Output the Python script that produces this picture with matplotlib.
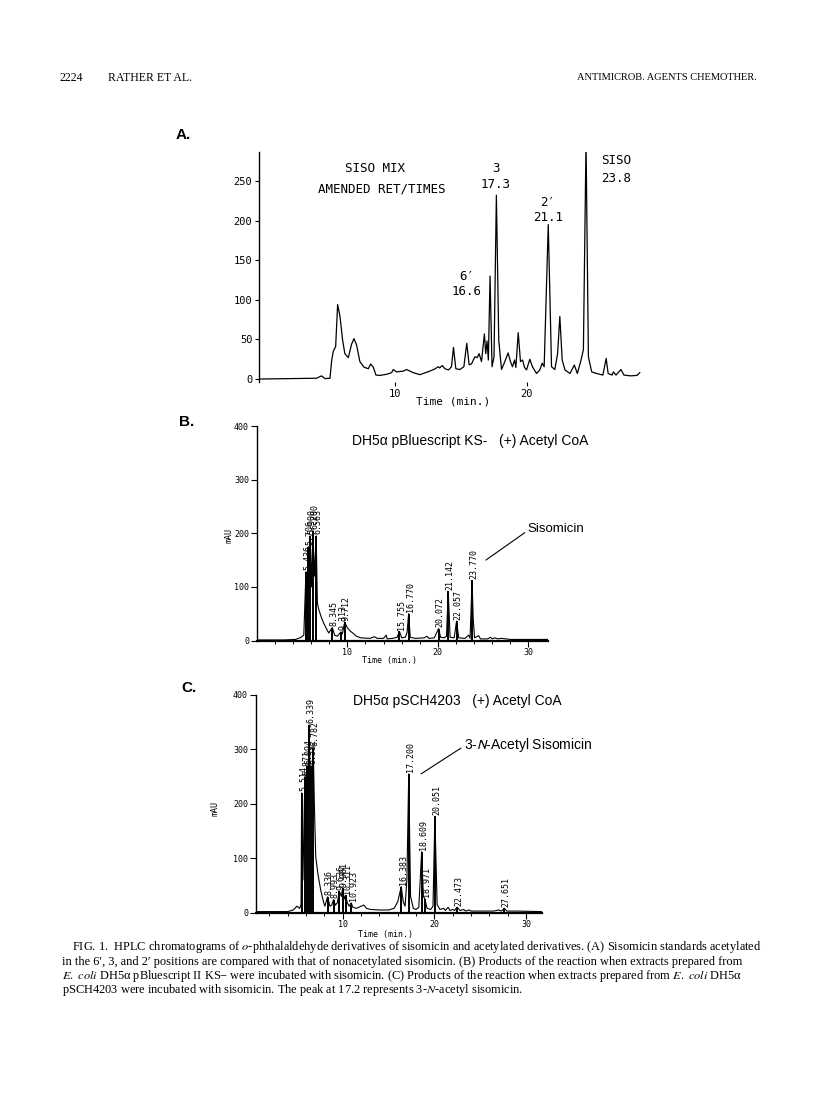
import numpy as np
import matplotlib.pyplot as plt

# ---- panel A : SISO MIX standards (time in min, signal) ----
a_time = [-0.3, 4.05, 4.43, 4.69, 5.07, 5.2, 5.32, 5.5, 5.65, 5.83, 6.03, 6.2, 6.46, 6.71, 6.89,
          7.09, 7.34, 7.65, 7.98, 8.16, 8.36, 8.56, 8.87, 9.37, 9.75, 9.88, 10.13, 10.64, 10.89,
          11.4, 11.9, 12.4, 12.8, 13.06, 13.3, 13.4, 13.6, 13.8, 14.07, 14.3, 14.45, 14.63, 14.93,
          15.24, 15.46, 15.64, 15.82, 16.07, 16.25, 16.4, 16.58, 16.8, 16.9, 17.0, 17.1, 17.23,
          17.38, 17.53, 17.71, 17.89, 18.1, 18.35, 18.6, 18.78, 18.93, 19.09, 19.19, 19.37, 19.54,
          19.7, 19.85, 20.0, 20.25, 20.45, 20.76, 21.01, 21.19, 21.34, 21.65, 21.9, 22.15, 22.36,
          22.53, 22.71, 22.92, 23.3, 23.63, 23.86, 24.11, 24.32, 24.52, 24.7, 24.95, 25.33, 25.8,
          26.05, 26.2, 26.5, 26.6, 26.8, 27.17, 27.4, 27.9, 28.4, 28.6]
a_signal = [0, 1, 4, 0.5, 1, 24, 35, 41, 94, 79, 49, 32, 27, 44, 51,
            43, 22, 15, 13, 19, 15, 5, 4.6, 6, 8, 12, 9, 10, 12,
            8, 5.5, 8.5, 11, 13, 15.5, 14, 17, 13, 11.5, 15.5, 40, 13, 12,
            15.5, 45, 18, 19, 28, 27, 32, 22, 57, 32, 48, 24, 130,
            15.5, 28, 232, 49, 12, 22, 33, 22, 15.5, 24, 14.6, 58.5, 22,
            24, 14.6, 11.5, 25, 15.5, 7, 11.5, 20, 15.5, 195, 15.5, 12, 32,
            79, 24, 11.5, 7, 17.7, 7, 22, 37, 300, 28, 9, 7, 5,
            26, 7, 5, 9, 5, 12, 5, 4, 4.6, 8]
a_notes = [('SISO MIX', 8.5, 266), ('AMENDED RET/TIMES', 9.0, 240),
           ('3', 17.67, 266), ('17.3', 17.67, 246),
           ('6\u2032', 15.44, 129), ('16.6', 15.44, 110),
           ('2\u2032', 21.62, 223), ('21.1', 21.62, 204),
           ('SISO', 26.78, 276), ('23.8', 26.78, 253)]

# ---- panel B : DH5a pBluescript KS- ----
b_time = [0, 3.0, 4.3, 4.9, 5.2, 5.436, 5.55, 5.706, 5.8, 5.9, 6.05, 6.2, 6.38, 6.563, 6.7,
          6.85, 7.1, 7.4, 7.7, 7.95, 8.345, 8.6, 8.9, 9.1, 9.313, 9.45, 9.712, 10.0, 10.3, 10.6,
          11.0, 11.5, 12.5, 13.0, 13.3, 14.0, 14.3, 14.4, 15.0, 15.5, 15.755, 16.0, 16.4, 16.6,
          16.77, 16.95, 17.5, 18.5, 18.8, 19.0, 19.6, 19.8, 20.072, 20.3, 20.7, 20.95, 21.142,
          21.35, 21.8, 22.057, 22.3, 23.0, 23.4, 23.55, 23.65, 23.77, 23.9, 24.05, 24.5, 24.7,
          25.5, 25.8, 26.0, 26.3, 26.6, 27.0, 28.0, 30.0, 32.1]
b_signal = [1, 1, 2, 6, 10, 128, 50, 175, 90, 195, 100, 205, 120, 195, 70,
            58, 45, 32, 22, 14, 24, 10, 8, 12, 16, 12, 34, 24, 18, 14,
            8, 5, 4, 7, 4, 4, 10, 3, 4, 6, 17, 5, 6, 15,
            50, 6, 4, 5, 8, 4, 5, 12, 22, 6, 5, 8, 92,
            6, 5, 36, 5, 4, 10, 4, 50, 112, 40, 5, 9, 3,
            3, 6, 3, 5, 3, 4, 2, 2, 2]
b_peaks = [5.436, 5.706, 5.900, 6.200, 6.563, 8.345, 9.313, 9.712,
           15.755, 16.770, 20.072, 21.142, 22.057, 23.770]

# ---- panel C : DH5a pSCH4203 ----
c_time = [0.5, 4.0, 4.6, 5.0, 5.3, 5.45, 5.514, 5.65, 5.871, 5.97, 6.094, 6.2, 6.339, 6.45,
          6.532, 6.65, 6.782, 6.9, 7.05, 7.3, 7.6, 7.9, 8.05, 8.336, 8.6, 8.8, 8.993, 9.2, 9.4,
          9.636, 9.85, 9.981, 10.15, 10.311, 10.5, 10.7, 10.923, 11.1, 11.5, 12.0, 12.3, 12.6,
          13.0, 14.0, 15.0, 15.6, 16.0, 16.383, 16.6, 16.8, 17.0, 17.2, 17.4, 17.7, 18.0, 18.3,
          18.609, 18.8, 18.971, 19.2, 19.6, 19.85, 20.051, 20.3, 20.6, 21.0, 21.2, 21.5, 21.7,
          22.0, 22.2, 22.473, 22.8, 23.2, 23.4, 23.8, 24.0, 26.5, 27.0, 27.3, 27.651, 27.9,
          29.0, 31.7]
c_signal = [2, 2, 5, 12, 8, 15, 220, 60, 250, 120, 270, 200, 345, 230,
            270, 240, 303, 200, 103, 70, 41, 20, 12, 29, 12, 14, 24, 14, 18,
            39, 30, 45, 25, 32, 18, 12, 18, 10, 8, 12, 14, 8,
            6, 5, 5, 8, 20, 48, 20, 12, 60, 255, 30, 8, 6, 10,
            112, 30, 25, 8, 6, 12, 177, 15, 6, 8, 4, 10, 4,
            6, 4, 10, 4, 6, 3, 5, 3, 3, 5, 3, 8, 3,
            3, 2]
c_peaks = [5.514, 5.871, 6.094, 6.339, 6.532, 6.782, 8.336, 8.993, 9.636, 9.981,
           10.311, 10.923, 16.383, 17.200, 18.609, 18.971, 20.051, 22.473, 27.651]

caption = [
    'FIG. 1.  HPLC chromatograms of $\\mathit{o}$-phthalaldehyde derivatives of sisomicin and acetylated derivatives. (A) Sisomicin standards acetylated',
    'in the 6\u2032, 3, and 2\u2032 positions are compared with that of nonacetylated sisomicin. (B) Products of the reaction when extracts prepared from',
    '$\\mathit{E.}$ $\\mathit{coli}$ DH5\u03b1 pBluescript II KS\u2212 were incubated with sisomicin. (C) Products of the reaction when extracts prepared from $\\mathit{E.}$ $\\mathit{coli}$ DH5\u03b1',
    'pSCH4203 were incubated with sisomicin. The peak at 17.2 represents 3-$\\mathit{N}$-acetyl sisomicin.',
]

W, H = 816, 1098
MONO = ['DejaVu Sans Mono', 'DejaVu Sans']
SANS = ['Liberation Sans', 'DejaVu Sans']
SERIF = ['Liberation Serif', 'DejaVu Serif']

fig = plt.figure(figsize=(W / 100, H / 100), dpi=100)


def box(left, top, right, bottom):
    return [left / W, 1 - bottom / H, (right - left) / W, (bottom - top) / H]


def ftext(px, py, s, **kw):
    fig.text(px / W, 1 - py / H, s, **kw)


def mono_ticks(ax, size):
    for lbl in ax.get_xticklabels() + ax.get_yticklabels():
        lbl.set_fontfamily(MONO)
        lbl.set_fontsize(size)


# page header
ftext(60, 78, '2224', family=SERIF, fontsize=8.5, va='center')
ftext(108, 78, 'RATHER ET AL.', family=SERIF, fontsize=8.5, va='center')
ftext(757, 78, 'ANTIMICROB. AGENTS CHEMOTHER.', family=SERIF, fontsize=7.5, va='center', ha='right')

# ---------------- A ----------------
ax = fig.add_axes(box(259.3, 151.7, 645, 382.2))
ax.plot(a_time, a_signal, color='black', lw=0.9)
ax.set_xlim(-0.3, 29)
ax.set_ylim(-4, 287)
ax.spines[['top', 'right', 'bottom']].set_visible(False)
ax.spines['left'].set_linewidth(1.0)
ax.set_yticks([0, 50, 100, 150, 200, 250])
ax.set_xticks([10, 20])
ax.tick_params(direction='out', length=3, width=0.8, pad=2)
mono_ticks(ax, 7.5)
for s, t, v in a_notes:
    ax.text(t, v, s, family=MONO, fontsize=9, ha='center', va='center')
ftext(453, 401, 'Time (min.)', family=MONO, fontsize=8, ha='center', va='center')
ftext(176, 135, 'A.', family=SANS, fontsize=11, weight='bold', va='center')

# ---------------- B ----------------
ax = fig.add_axes(box(256.7, 426, 547.5, 640.5))
ax.plot(b_time, b_signal, color='black', lw=0.8)
b_h = np.interp(b_peaks, b_time, b_signal)
ax.vlines(b_peaks, 0, b_h, color='black', lw=1.4)
for rt, h in zip(b_peaks, b_h):
    ax.text(rt + 0.2, h + 3, f'{rt:.3f}', rotation=90, ha='center', va='bottom',
            family=MONO, fontsize=6)
ax.set_xlim(0, 32.1)
ax.set_ylim(0, 400)
ax.spines[['top', 'right']].set_visible(False)
ax.spines['left'].set_linewidth(1.0)
ax.spines['bottom'].set_linewidth(1.6)
ax.set_yticks([0, 100, 200, 300, 400])
ax.set_xticks([10, 20, 30])
ax.set_xticks(np.arange(2, 32, 2), minor=True)
ax.tick_params(direction='out', length=4, width=0.8, pad=1.5)
ax.tick_params(axis='x', which='minor', length=2.5, width=0.7)
mono_ticks(ax, 6)
ax.annotate('Sisomicin', xy=(25.3, 150), xytext=(29.9, 207), family=SANS, fontsize=9.5,
            ha='left', va='center', annotation_clip=False,
            arrowprops=dict(arrowstyle='-', lw=0.8, color='black', shrinkA=0, shrinkB=0,
                            relpos=(0, 0.4)))
ftext(351.7, 441, 'DH5\u03b1 pBluescript KS-   (+) Acetyl CoA', family=SANS, fontsize=10, va='center')
ftext(229, 535, 'mAU', family=MONO, fontsize=6, rotation=90, ha='center', va='center')
ftext(389, 660, 'Time (min.)', family=MONO, fontsize=6, ha='center', va='center')
ftext(179, 422, 'B.', family=SANS, fontsize=11, weight='bold', va='center')

# ---------------- C ----------------
ax = fig.add_axes(box(255.7, 695, 541.6, 912.7))
ax.plot(c_time, c_signal, color='black', lw=0.8)
c_h = np.interp(c_peaks, c_time, c_signal)
ax.vlines(c_peaks, 0, c_h, color='black', lw=1.4)
for rt, h in zip(c_peaks, c_h):
    ax.text(rt + 0.2, h + 3, f'{rt:.3f}', rotation=90, ha='center', va='bottom',
            family=MONO, fontsize=6)
ax.set_xlim(0.5, 31.7)
ax.set_ylim(0, 400)
ax.spines[['top', 'right']].set_visible(False)
ax.spines['left'].set_linewidth(1.0)
ax.spines['bottom'].set_linewidth(1.6)
ax.set_yticks([0, 100, 200, 300, 400])
ax.set_xticks([10, 20, 30])
ax.set_xticks(np.arange(2, 32, 2), minor=True)
ax.tick_params(direction='out', length=4, width=0.8, pad=1.5)
ax.tick_params(axis='x', which='minor', length=2.5, width=0.7)
mono_ticks(ax, 6)
ax.annotate('3-$\\mathit{N}$-Acetyl Sisomicin', xy=(18.54, 255), xytext=(23.2, 309),
            family=SANS, fontsize=10, math_fontfamily='stixsans',
            ha='left', va='center', annotation_clip=False,
            arrowprops=dict(arrowstyle='-', lw=0.8, color='black', shrinkA=0, shrinkB=0,
                            relpos=(0, 0.4)))
ftext(352.7, 701, 'DH5\u03b1 pSCH4203   (+) Acetyl CoA', family=SANS, fontsize=10, va='center')
ftext(215, 808, 'mAU', family=MONO, fontsize=6, rotation=90, ha='center', va='center')
ftext(386, 935, 'Time (min.)', family=MONO, fontsize=6, ha='center', va='center')
ftext(181, 688, 'C.', family=SANS, fontsize=11, weight='bold', va='center')

# ---------------- caption ----------------
for i, line in enumerate(caption):
    ftext(72 if i == 0 else 62, 947 + 14.5 * i, line, family=SERIF, fontsize=8.9,
          math_fontfamily='stix', va='center')

fig.savefig('out.png', dpi=100)
